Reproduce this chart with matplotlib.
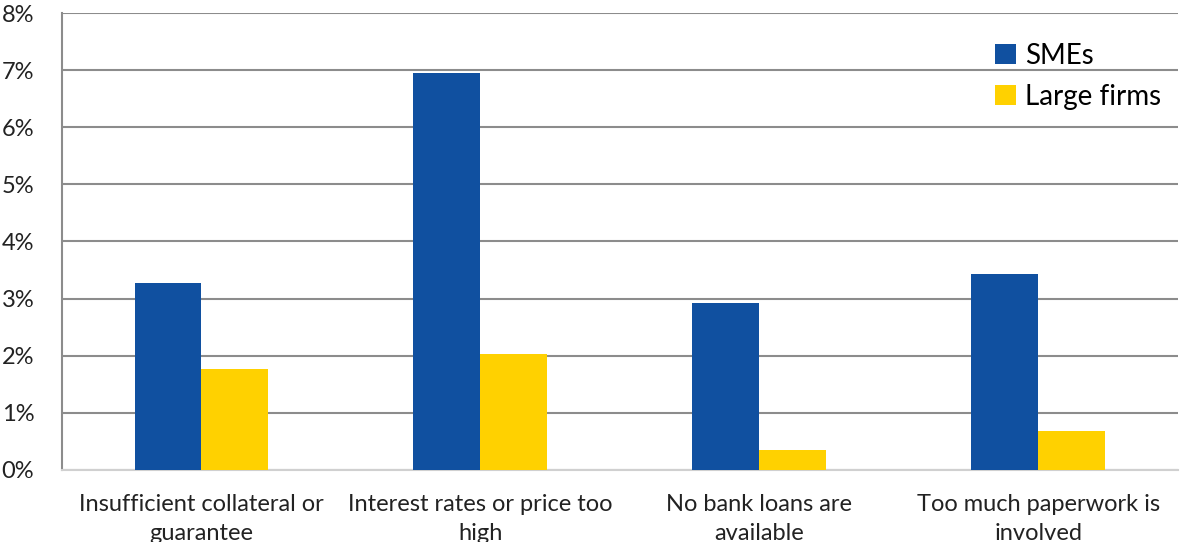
import numpy as np
import matplotlib
matplotlib.use("Agg")
import matplotlib.pyplot as plt
from matplotlib.ticker import FuncFormatter

plt.rcParams['font.family'] = ['Lato', 'DejaVu Sans']

categories = ["Insufficient collateral or\nguarantee",
              "Interest rates or price too\nhigh",
              "No bank loans are\navailable",
              "Too much paperwork is\ninvolved"]
smes = [3.28, 6.95, 2.93, 3.43]
large_firms = [1.76, 2.03, 0.35, 0.68]

fig = plt.figure(figsize=(11.92, 5.42), dpi=100)
ax = fig.add_axes([0.052, 0.133, 0.936, 0.843])

x = np.arange(len(categories))
w = 0.24
ax.bar(x - w / 2, smes, w, color="#1050A0", label="SMEs", zorder=3)
ax.bar(x + w / 2, large_firms, w, color="#FFD100", label="Large firms", zorder=3)

ax.set_xlim(-0.5, len(categories) - 0.5)
ax.set_ylim(0, 8)
ax.set_yticks(range(0, 9))
ax.yaxis.set_major_formatter(FuncFormatter(lambda v, p: f"{v:.0f}%"))
ax.set_xticks(x)
ax.set_xticklabels(categories, fontsize=17, color="#222222", linespacing=1.5)
ax.tick_params(axis="y", labelsize=17, colors="#222222", length=0, pad=20)
ax.tick_params(axis="x", length=0, pad=17)

ax.grid(axis="y", color="#8c8c8c", linewidth=1.5, zorder=0)
for s in ["top", "right"]:
    ax.spines[s].set_visible(False)
ax.spines["left"].set_color("#8c8c8c")
ax.spines["left"].set_linewidth(1.5)
ax.spines["bottom"].set_color("#d0d0d0")
ax.spines["bottom"].set_linewidth(1.5)

ax.legend(loc="upper right", bbox_to_anchor=(1.008, 0.99), frameon=False,
          fontsize=20, handlelength=0.75, handleheight=0.75, handletextpad=0.35,
          labelspacing=0.55)

fig.savefig("out.png", dpi=100)
